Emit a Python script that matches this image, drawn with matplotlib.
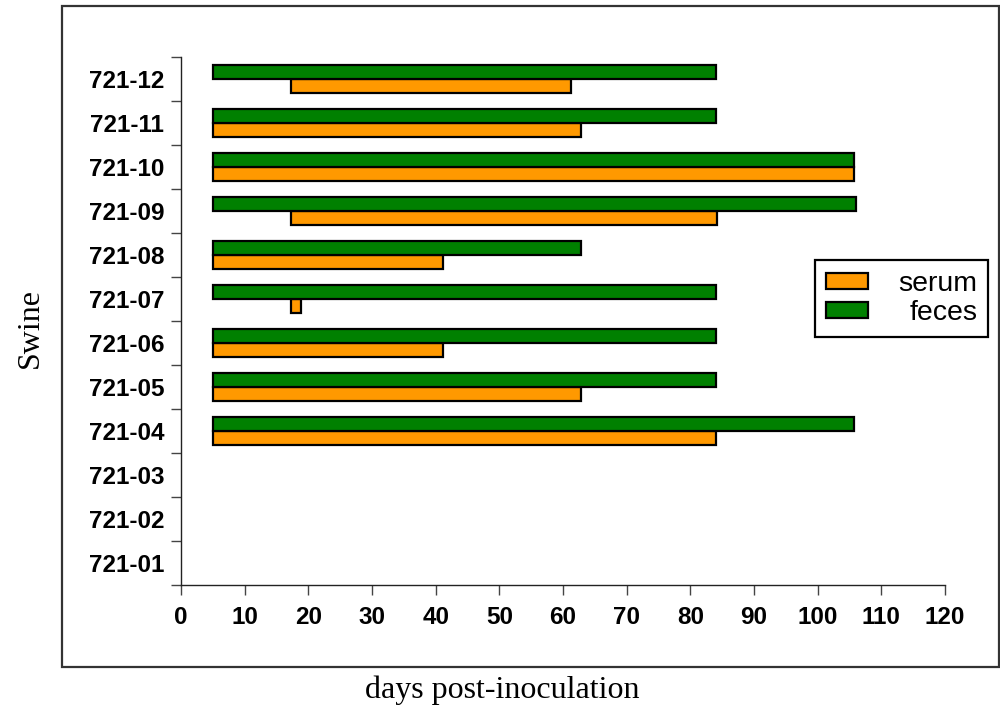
import numpy as np
import matplotlib
matplotlib.use('Agg')
import matplotlib.pyplot as plt
from matplotlib.patches import Rectangle

# swine ids, bottom to top
swine = ['721-01', '721-02', '721-03', '721-04', '721-05', '721-06',
         '721-07', '721-08', '721-09', '721-10', '721-11', '721-12']

nan = np.nan
# days post-inoculation where virus was detected (start, end)
serum_start = [nan, nan, nan, 5, 5, 5, 17.2, 5, 17.2, 5, 5, 17.2]
serum_end = [nan, nan, nan, 84, 62.8, 41.2, 18.8, 41.2, 84.2, 105.7, 62.8, 61.2]
feces_start = [nan, nan, nan, 5, 5, 5, 5, 5, 5, 5, 5, 5]
feces_end = [nan, nan, nan, 105.7, 84, 84, 84, 62.8, 106, 105.7, 84, 84]

xticks = list(range(0, 121, 10))

SERUM_COLOR = '#FF9900'
FECES_COLOR = '#008000'
bar_h = 0.32

fig = plt.figure(figsize=(10.0, 7.12), dpi=100)
ax = fig.add_axes([0.181, 1 - 585 / 712, 0.764, (585 - 57) / 712])

y = np.arange(len(swine))


def draw_bars(starts, ends, offset, color, label):
    s = np.array(starts, dtype=float)
    e = np.array(ends, dtype=float)
    ok = ~np.isnan(s)
    ax.barh(y[ok] + offset, e[ok] - s[ok], left=s[ok], height=bar_h,
            color=color, edgecolor='black', linewidth=1.6, label=label)


draw_bars(serum_start, serum_end, -bar_h / 2, SERUM_COLOR, 'serum')
draw_bars(feces_start, feces_end, bar_h / 2, FECES_COLOR, 'feces')

ax.set_xlim(0, 120)
ax.set_ylim(-0.5, len(swine) - 0.5)
ax.spines['top'].set_visible(False)
ax.spines['right'].set_visible(False)
for sp in ('left', 'bottom'):
    ax.spines[sp].set_linewidth(1.0)
    ax.spines[sp].set_color('#222222')

ax.set_xticks(xticks)
ax.set_xticklabels([str(t) for t in xticks])
ax.set_yticks(np.arange(len(swine) + 1) - 0.5)
ax.set_yticklabels([])
ax.set_yticks(y, minor=True)
ax.set_yticklabels(swine, minor=True)
ax.tick_params(axis='y', which='major', length=7, width=1.0, color='#444444', direction='out')
ax.tick_params(axis='y', which='minor', length=0, pad=12)
ax.tick_params(axis='x', length=7, width=1.0, color='#444444', pad=8)
for lab in ax.get_xticklabels() + ax.get_yticklabels(minor=True):
    lab.set_fontfamily('Liberation Sans')
    lab.set_fontweight('bold')
    lab.set_fontsize(17.5)

# outer frame around the plot
fig.patches.append(Rectangle((0.062, 1 - 667 / 712), 0.937, (667 - 6) / 712,
                             transform=fig.transFigure, fill=False,
                             edgecolor='#333333', linewidth=1.6))

fig.text(0.502, 1 - 690 / 712, 'days post-inoculation', ha='center', va='center',
         family='Liberation Serif', fontsize=23)
fig.text(0.030, 1 - 328 / 712, 'Swine', ha='center', va='center', rotation=90,
         family='Liberation Serif', fontsize=23)

leg = ax.legend(loc='upper right', bbox_to_anchor=(0.988, 1 - 260 / 712),
                bbox_transform=fig.transFigure, borderaxespad=0.0,
                prop={'family': 'Liberation Sans', 'size': 20.5},
                handlelength=1.5, handleheight=0.47, handletextpad=1.05,
                labelspacing=0.12, borderpad=0.38, fancybox=False,
                framealpha=1.0, edgecolor='black')
leg.get_frame().set_linewidth(1.6)

# right-align the legend labels
fig.canvas.draw()
texts = leg.get_texts()
widths = [t.get_window_extent().width for t in texts]
for t, w in zip(texts, widths):
    t.set_x(max(widths) - w)

plt.savefig('out.png', dpi=100)
plt.close()
